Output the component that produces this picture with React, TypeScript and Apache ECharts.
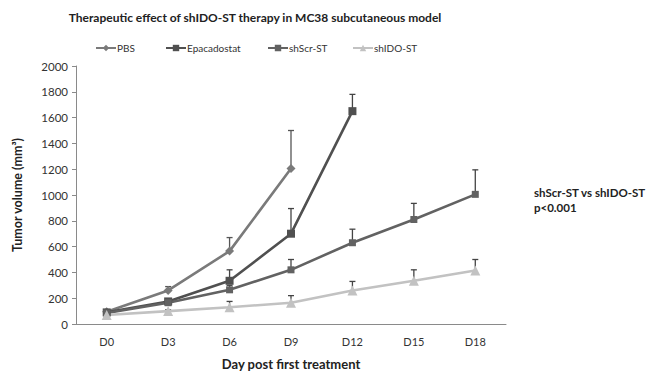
import React, { useEffect, useRef } from "react";
import * as echarts from "echarts";

const categories = ["D0", "D3", "D6", "D9", "D12", "D15", "D18"];
const pbs = [95, 260, 565, 1205, null, null, null];
const pbsUpper = [105, 290, 670, 1500, null, null, null];
const epa = [90, 175, 335, 700, 1650, null, null];
const epaUpper = [100, 190, 420, 895, 1780, null, null];
const shScr = [85, 165, 265, 420, 630, 810, 1005];
const shScrUpper = [95, 180, 300, 500, 735, 935, 1195];
const shIDO = [70, 100, 130, 165, 260, 335, 415];
const shIDOUpper = [80, 110, 175, 220, 330, 420, 500];
const yTicks = { min: 0, max: 2000, interval: 200 };
const legendNames = ["PBS", "Epacadostat", "shScr-ST", "shIDO-ST"];

const FONT = "Lato, 'Liberation Sans', sans-serif";

function errData(vals: (number | null)[], ups: (number | null)[]) {
  const out: any[] = [];
  vals.forEach((v, i) => {
    if (v != null && ups[i] != null) out.push([i, v, ups[i]]);
  });
  return out;
}

function errSeries(name: string, vals: any[], ups: any[], color: string) {
  return {
    type: "custom",
    name: name + "-err",
    silent: true,
    z: 1,
    data: errData(vals, ups),
    encode: { x: 0, y: [1, 2] },
    renderItem: (params: any, api: any) => {
      const i = api.value(0);
      const lo = api.coord([i, api.value(1)]);
      const hi = api.coord([i, api.value(2)]);
      const w = 3;
      return {
        type: "group",
        children: [
          { type: "line", shape: { x1: lo[0], y1: lo[1], x2: hi[0], y2: hi[1] }, style: { stroke: color, lineWidth: 1.3 } },
          { type: "line", shape: { x1: hi[0] - w, y1: hi[1], x2: hi[0] + w, y2: hi[1] }, style: { stroke: color, lineWidth: 1.3 } },
        ],
      };
    },
  };
}

export default function App() {
  const ref = useRef<HTMLDivElement>(null);
  useEffect(() => {
    const chart = echarts.init(ref.current!, undefined, { renderer: "svg" });
    const cPBS = "#7a7a7a";
    const cEpa = "#505050";
    const cScr = "#626262";
    const cIDO = "#c2c2c2";
    const lineSeries = (name: string, data: any[], color: string, symbol: string, size: number) => ({
      type: "line",
      name,
      data,
      symbol,
      symbolSize: size,
      showSymbol: true,
      z: 2,
      lineStyle: { color, width: 2.6 },
      itemStyle: { color },
      connectNulls: false,
    });
    const legendLefts = [90, 160, 262, 347];
    chart.setOption({
      animation: false,
      backgroundColor: "#fff",
      title: {
        text: "Therapeutic effect of shIDO-ST therapy in MC38 subcutaneous model",
        left: 250,
        textAlign: "center",
        top: 6,
        textStyle: { fontFamily: FONT, fontSize: 12, fontWeight: "bold", color: "#222" },
      },
      legend: legendNames.map((n, i) => ({
        top: 38,
        left: legendLefts[i],
        itemWidth: 20,
        itemHeight: 8,
        textStyle: { fontFamily: FONT, fontSize: 10, color: "#333", padding: [0, 0, 0, -4] },
        data: [n],
      })),
      grid: { left: 76, right: 142, top: 66, bottom: 48, outerBoundsMode: "none", containLabel: false },
      xAxis: {
        type: "category",
        data: categories,
        boundaryGap: true,
        name: "Day post first treatment",
        nameLocation: "middle",
        nameGap: 33,
        nameTextStyle: { fontFamily: FONT, fontSize: 13, fontWeight: "bold", color: "#222" },
        axisLine: { lineStyle: { color: "#8a8a8a" } },
        axisTick: { length: 4, inside: true, lineStyle: { color: "#8a8a8a" } },
        axisLabel: { fontFamily: FONT, fontSize: 11, color: "#333", margin: 12 },
      },
      yAxis: {
        type: "value",
        min: yTicks.min,
        max: yTicks.max,
        interval: yTicks.interval,
        name: "Tumor volume (mm³)",
        nameLocation: "middle",
        nameGap: 52,
        nameTextStyle: { fontFamily: FONT, fontSize: 12.5, fontWeight: "bold", color: "#222" },
        axisLine: { show: true, lineStyle: { color: "#8a8a8a" } },
        axisTick: { show: true, length: 4, lineStyle: { color: "#8a8a8a" } },
        splitLine: { show: false },
        axisLabel: { fontFamily: FONT, fontSize: 11.5, color: "#333", margin: 8, formatter: (v: number) => String(v) },
      },
      series: [
        errSeries("PBS", pbs, pbsUpper, "#555"),
        errSeries("Epacadostat", epa, epaUpper, "#444"),
        errSeries("shScr-ST", shScr, shScrUpper, "#444"),
        errSeries("shIDO-ST", shIDO, shIDOUpper, "#444"),
        lineSeries("PBS", pbs, cPBS, "diamond", 9),
        lineSeries("Epacadostat", epa, cEpa, "rect", 8),
        lineSeries("shScr-ST", shScr, cScr, "rect", 7),
        lineSeries("shIDO-ST", shIDO, cIDO, "triangle", 10),
      ],
      graphic: [
        {
          type: "text",
          left: 534,
          top: 185,
          style: {
            text: "shScr-ST vs shIDO-ST\np<0.001",
            fontFamily: FONT,
            fontSize: 11.5,
            fontWeight: "bold",
            fill: "#222",
            lineHeight: 15,
          },
        },
      ],
    });
    return () => chart.dispose();
  }, []);
  return <div ref={ref} style={{ width: 648, height: 372, position: "absolute", left: 0, top: 0 }} />;
}
